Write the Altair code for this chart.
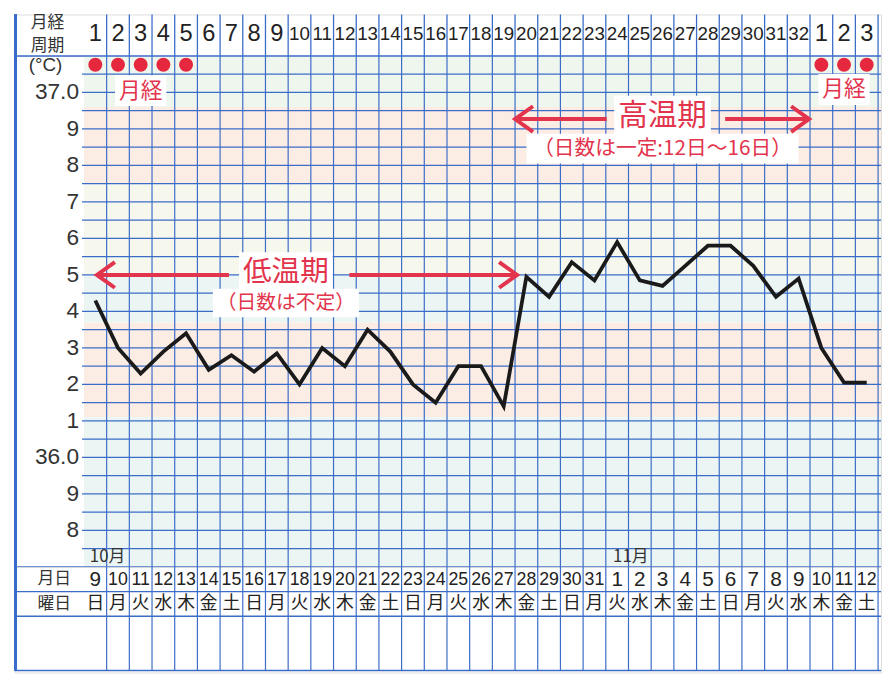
import altair as alt
import pandas as pd
import numpy as np

# ---------------- data ----------------
cycle_labels = ["1", "2", "3", "4", "5", "6", "7", "8", "9", "10", "11", "12",
                "13", "14", "15", "16", "17", "18", "19", "20", "21", "22", "23",
                "24", "25", "26", "27", "28", "29", "30", "31", "32", "1", "2", "3"]
date_labels = ["9", "10", "11", "12", "13", "14", "15", "16", "17", "18", "19",
               "20", "21", "22", "23", "24", "25", "26", "27", "28", "29", "30",
               "31", "1", "2", "3", "4", "5", "6", "7", "8", "9", "10", "11", "12"]
weekday_labels = ["日", "月", "火", "水", "木", "金", "土",
                  "日", "月", "火", "水", "木", "金", "土",
                  "日", "月", "火", "水", "木", "金", "土",
                  "日", "月", "火", "水", "木", "金", "土",
                  "日", "月", "火", "水", "木", "金", "土"]
temperatures = [36.43, 36.30, 36.23, 36.29, 36.34, 36.24, 36.28, 36.235, 36.285,
                36.20, 36.30, 36.25, 36.35, 36.29, 36.20, 36.15, 36.25, 36.25,
                36.14, 36.495, 36.44, 36.535, 36.485, 36.59, 36.485, 36.47,
                36.525, 36.58, 36.58, 36.525, 36.44, 36.49, 36.30, 36.205, 36.205]
period_days = [1, 2, 3, 4, 5, 33, 34, 35]
temp_ticks = [37.0, 36.9, 36.8, 36.7, 36.6, 36.5, 36.4, 36.3, 36.2, 36.1, 36.0, 35.9, 35.8]
temp_tick_labels = ["37.0", "9", "8", "7", "6", "5", "4", "3", "2", "1", "36.0", "9", "8"]
month_labels = ["10月", "11月"]
month_label_pos = [1.04, 24.1]
band_top = [37.10, 36.96, 36.75, 36.50, 36.37, 36.11]
band_bottom = [36.96, 36.75, 36.50, 36.37, 36.11, 35.70]
band_colors = ["#eff6ee", "#fcede4", "#f6f8ee", "#ebf5f3", "#fcede4", "#ebf5f3"]

ann_text_list = ["月経", "月経", "低温期", "（日数は不定）", "高温期", "（日数は一定:12日〜16日）"]
ann_pos = [2.5, 33.5, 8.9, 8.9, 25.5, 25.5]
ann_temp = [37.005, 37.008, 36.508, 36.423, 36.935, 36.846]
ann_font = [22, 22, 29, 20, 30, 21]

# ---------------- layout constants ----------------
W = 878
LABEL_W = 70
COL = 23.0
H_HEAD, H_MAIN, H_BOT = 42, 518, 107
T_MIN, T_MAX = 35.7, 37.1
PX_PER_DEG = H_MAIN / (T_MAX - T_MIN)
BLUE = "#3b6cc8"
RED = "#e5283e"
RED_TXT = "#e2344c"
GRAY = "#333333"
JP = "Noto Sans CJK JP"
NUM = "Liberation Sans"

xs = alt.Scale(domain=[-LABEL_W / COL, (W - LABEL_W) / COL], nice=False, zero=False)
ys = alt.Scale(domain=[T_MIN, T_MAX], nice=False, zero=False)
hys = alt.Scale(domain=[0, 1], reverse=True, nice=False, zero=False)
bys = alt.Scale(domain=[0, H_BOT / 25.0], reverse=True, nice=False, zero=False)

days = pd.DataFrame({
    "day": list(range(1, 36)),
    "cycle": cycle_labels,
    "date": date_labels,
    "wd": weekday_labels,
    "temp": temperatures,
})
days["u"] = days["day"] - 0.5
days["two"] = days["cycle"].str.len() > 1
days["two_d"] = days["date"].str.len() > 1

vlines = pd.DataFrame({"b": list(range(1, 36))})


def X(f):
    return alt.X(f, type="quantitative", scale=xs, axis=None)


def Y(f, s):
    return alt.Y(f, type="quantitative", scale=s, axis=None)


# ---------------- header ----------------
head_v = alt.Chart(vlines).mark_rule(color=BLUE, strokeWidth=1.3).encode(
    x=X("b"), y=alt.value(0), y2=alt.value(H_HEAD))
head_border = alt.Chart(vlines).mark_rule(color=BLUE, strokeWidth=1.5).encode(
    x=alt.value(0.75), y=alt.value(0), y2=alt.value(H_HEAD))
head_lbl = alt.Chart(pd.DataFrame({"t": ["月経", "周期"], "r": [0.2, 0.75]})).mark_text(
    font=JP, fontSize=17, color=GRAY, baseline="middle").encode(
    x=alt.value(33), y=Y("r", hys), text="t:N")
head_num1 = alt.Chart(days).transform_filter("!datum.two").transform_calculate(
    hy="0.48").mark_text(font=NUM, fontSize=24, color="#222", baseline="middle").encode(
    x=X("u"), y=Y("hy", hys), text="cycle:N")
head_num2 = alt.Chart(days).transform_filter("datum.two").transform_calculate(
    hy="0.48").mark_text(font=NUM, fontSize=19, color="#222", baseline="middle").encode(
    x=X("u"), y=Y("hy", hys), text="cycle:N")
header = alt.layer(head_v, head_border, head_lbl, head_num1, head_num2).properties(
    width=W, height=H_HEAD)

# ---------------- main grid ----------------
bands = pd.DataFrame({"top": band_top, "bot": band_bottom, "c": band_colors})
band_layer = alt.Chart(bands).mark_rect().encode(
    x=alt.value(LABEL_W), x2=alt.value(W),
    y=Y("top", ys), y2="bot:Q",
    color=alt.Color("c:N", scale=None))

hl = pd.DataFrame({"t": np.round(np.arange(35.75, 37.06, 0.05), 2)})
h_layer = alt.Chart(hl).mark_rule(color=BLUE, strokeWidth=1.2).encode(
    x=alt.value(LABEL_W - 2), x2=alt.value(W), y=Y("t", ys))
edge = pd.DataFrame({"t": [T_MIN, T_MAX]})
edge_layer = alt.Chart(edge).mark_rule(color=BLUE, strokeWidth=1.5).encode(
    x=alt.value(0), x2=alt.value(W), y=Y("t", ys))
v_layer = alt.Chart(vlines).mark_rule(color=BLUE, strokeWidth=1.2).encode(
    x=X("b"), y=alt.value(0), y2=alt.value(H_MAIN))
border_layer = alt.Chart(vlines).mark_rule(color=BLUE, strokeWidth=1.5).encode(
    x=alt.value(0.75), y=alt.value(0), y2=alt.value(H_MAIN))

ticks = pd.DataFrame({"t": temp_ticks, "lab": temp_tick_labels})
tick_text = alt.Chart(ticks).mark_text(
    font=NUM, fontSize=23, color=GRAY, align="right", baseline="middle").encode(
    x=alt.value(LABEL_W - 5), y=Y("t", ys), text="lab:N")
unit_text = alt.Chart(pd.DataFrame({"t": [37.076], "lab": ["(°C)"]})).mark_text(
    font=NUM, fontSize=19, color=GRAY, baseline="middle").encode(
    x=alt.value(31), y=Y("t", ys), text="lab:N")

months = pd.DataFrame({"m": month_labels, "u": month_label_pos, "t": [35.726, 35.726]})
month_text = alt.Chart(months).mark_text(
    font=JP, fontSize=17, color=GRAY, baseline="middle").encode(
    x=X("u"), y=Y("t", ys), text="m:N")

dots = alt.Chart(days).transform_filter(
    alt.FieldOneOfPredicate(field="day", oneOf=period_days)).transform_calculate(
    dy="37.076").mark_circle(color=RED, opacity=1, size=200).encode(
    x=X("u"), y=Y("dy", ys))

ann = pd.DataFrame({"txt": ann_text_list, "u": ann_pos, "t": ann_temp, "fs": ann_font})


def text_width_px(s, fs):
    return sum(0.55 * fs if ord(ch) < 128 else fs for ch in s)


ann["hw"] = [(text_width_px(s, f) / 2 + 4) / COL for s, f in zip(ann["txt"], ann["fs"])]
ann["hh"] = [(f * 0.62 + 2) / PX_PER_DEG for f in ann["fs"]]
ann["bx1"] = ann["u"] - ann["hw"]
ann["bx2"] = ann["u"] + ann["hw"]
ann["by1"] = ann["t"] - ann["hh"]
ann["by2"] = ann["t"] + ann["hh"]

ann_box = alt.Chart(ann).mark_rect(color="white").encode(
    x=X("bx1"), x2="bx2:Q", y=Y("by1", ys), y2="by2:Q")
ann_text = alt.Chart(ann).mark_text(
    font=JP, color=RED_TXT, baseline="middle").encode(
    x=X("u"), y=Y("t", ys), text="txt:N",
    size=alt.Size("fs:Q", scale=None))

arrows = pd.DataFrame({
    "x1": [0.57, 11.7, 19.0, 28.26],
    "x2": [6.39, 19.09, 23.04, 31.96],
    "t": [36.50, 36.50, 36.927, 36.927],
})
arrow_lines = alt.Chart(arrows).mark_rule(color=RED_TXT, strokeWidth=4).encode(
    x=X("x1"), x2="x2:Q", y=Y("t", ys))
heads_l = pd.DataFrame({"x": [0.57, 19.0], "t": [36.50, 36.927]})
heads_r = pd.DataFrame({"x": [19.09, 31.96], "t": [36.50, 36.927]})
head_left = alt.Chart(heads_l).mark_point(
    shape="M1.4,-1L0,0L1.4,1", filled=False, color=RED_TXT, strokeWidth=4,
    size=676, opacity=1).encode(x=X("x"), y=Y("t", ys))
head_right = alt.Chart(heads_r).mark_point(
    shape="M-1.4,-1L0,0L-1.4,1", filled=False, color=RED_TXT, strokeWidth=4,
    size=676, opacity=1).encode(x=X("x"), y=Y("t", ys))

temp_line = alt.Chart(days).mark_line(color="#1a1a1a", strokeWidth=3.8).encode(
    x=X("u"), y=Y("temp", ys))

main = alt.layer(
    band_layer, h_layer, v_layer, edge_layer, border_layer, tick_text, unit_text,
    month_text, ann_box, ann_text, arrow_lines, head_left, head_right, dots, temp_line
).properties(width=W, height=H_MAIN)

# ---------------- bottom table ----------------
rows = pd.DataFrame({"r": [1.0, 2.0, 4.2]})
row_lines = alt.Chart(rows).mark_rule(color=BLUE, strokeWidth=1.4).encode(
    x=alt.value(0), x2=alt.value(W), y=Y("r", bys))
bot_v = alt.Chart(vlines).mark_rule(color=BLUE, strokeWidth=1.2).encode(
    x=X("b"), y=alt.value(0), y2=alt.value(105))
bot_border = alt.Chart(vlines).mark_rule(color=BLUE, strokeWidth=1.5).encode(
    x=alt.value(0.75), y=alt.value(0), y2=alt.value(105))
bot_lbl = alt.Chart(pd.DataFrame({"t": ["月日", "曜日"], "r": [0.5, 1.5]})).mark_text(
    font=JP, fontSize=17, color=GRAY, baseline="middle").encode(
    x=alt.value(40), y=Y("r", bys), text="t:N")
date1 = alt.Chart(days).transform_filter("!datum.two_d").transform_calculate(
    ry="0.52").mark_text(font=NUM, fontSize=21, color="#222", baseline="middle").encode(
    x=X("u"), y=Y("ry", bys), text="date:N")
date2 = alt.Chart(days).transform_filter("datum.two_d").transform_calculate(
    ry="0.52").mark_text(font=NUM, fontSize=18, color="#222", baseline="middle").encode(
    x=X("u"), y=Y("ry", bys), text="date:N")
wd_text = alt.Chart(days).transform_calculate(ry="1.52").mark_text(
    font=JP, fontSize=18, color="#222", baseline="middle").encode(
    x=X("u"), y=Y("ry", bys), text="wd:N")
bottom = alt.layer(row_lines, bot_v, bot_border, bot_lbl, date1, date2, wd_text).properties(
    width=W, height=H_BOT)

chart = alt.vconcat(header, main, bottom, spacing=0, bounds="flush").resolve_scale(
    x="independent", y="independent", color="independent", size="independent"
).properties(
    padding={"left": 5, "top": 0, "right": 0, "bottom": 0}
).configure_view(strokeWidth=0).configure(background="white")

chart.save("out.html", embed_options={"renderer": "svg", "actions": False})
